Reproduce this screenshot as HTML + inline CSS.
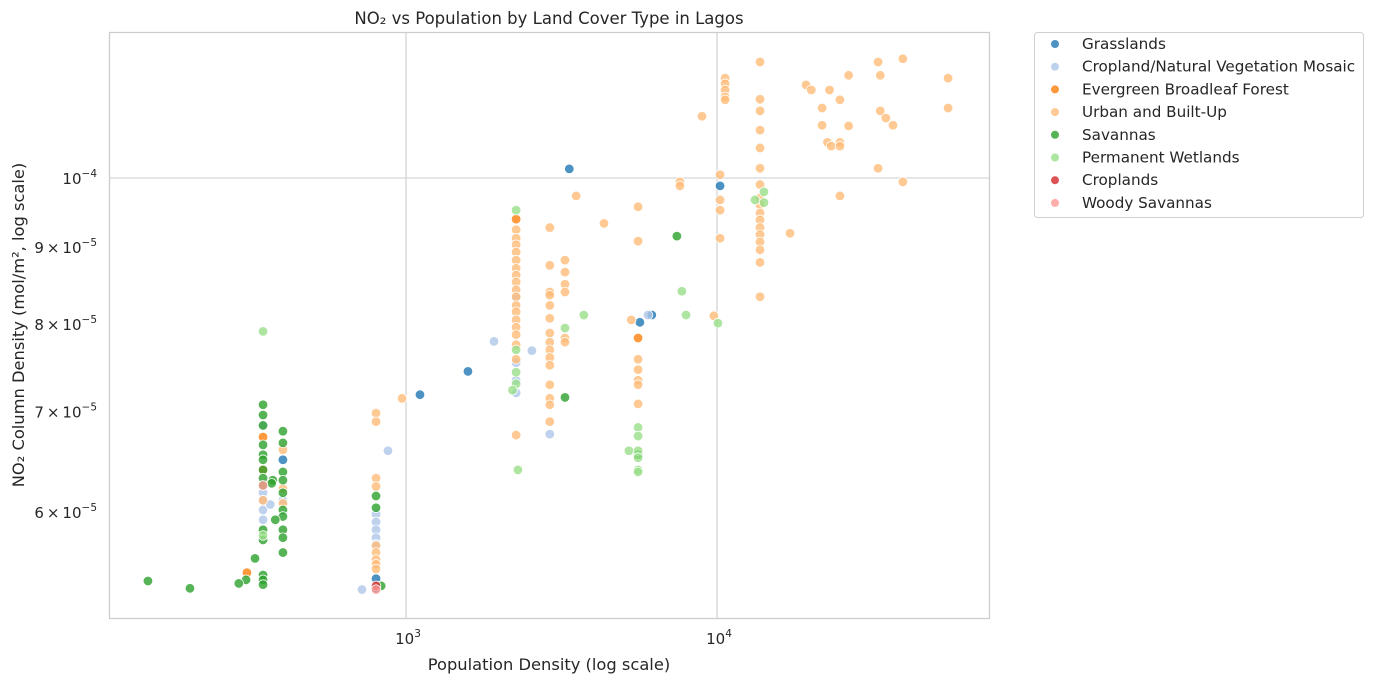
<!DOCTYPE html>
<html><head><meta charset="utf-8"><style>
body{margin:0;background:#fff;font-family:"Liberation Sans","DejaVu Sans",sans-serif;}
svg text{font-family:"DejaVu Sans","Liberation Sans",sans-serif;fill:#262626;}
</style></head><body>
<svg id="chart" width="1373" height="684" viewBox="0 0 1373 684" xmlns="http://www.w3.org/2000/svg">
<rect x="0" y="0" width="1373" height="684" fill="#fff"/>
<g id="grid"></g>
<g id="points"></g>
<rect x="109.5" y="32.5" width="880" height="586" fill="none" stroke="#cccccc" stroke-width="1.25"/>
<g id="xticks"></g>
<g id="yticks"></g>
<text x="549" y="24" text-anchor="middle" font-size="16.5">NO₂ vs Population by Land Cover Type in Lagos</text>
<text x="549" y="670" text-anchor="middle" font-size="16.3">Population Density (log scale)</text>
<text transform="translate(24,325) rotate(-90)" text-anchor="middle" font-size="16.3">NO₂ Column Density (mol/m², log scale)</text>
<g id="legend">
<rect x="1034.5" y="32.5" width="329" height="185" rx="3" fill="#fff" stroke="#d0d0d0"/>
</g>
</svg>
<script>
const categories=["Grasslands","Cropland/Natural Vegetation Mosaic","Evergreen Broadleaf Forest","Urban and Built-Up","Savannas","Permanent Wetlands","Croplands","Woody Savannas"];
const colors=["#1f77b4","#aec7e8","#ff7f0e","#ffbb78","#2ca02c","#98df8a","#d62728","#ff9896"];
const xTicks=[1000,10000];
const xTickLabels=["3","4"];
const yTicks=[10e-5,9e-5,8e-5,7e-5,6e-5];
const yTickLabels=["","9","8","7","6"];
// values: [population, NO2 in 1e-5 mol/m2]
const grasslands=[[402,6.5],[801,5.42],[801,5.34],[1109,7.18],[1582,7.44],[3350,10.14],[5650,8.02],[6170,8.11],[10230,9.88]];
const mosaic=[[347,6.85],[347,6.18],[347,6.02],[347,5.93],[347,6.11],[366,6.07],[402,6.11],[801,5.98],[801,5.91],[801,5.84],[801,5.77],[801,5.71],[722,5.33],[875,6.59],[1918,7.79],[2540,7.68],[2260,8.33],[2260,7.54],[2260,7.34],[2260,7.2],[2900,6.76],[6000,8.11]];
const evergreen=[[347,6.73],[347,6.4],[308,5.47],[2260,9.39],[5575,7.83]];
const urban=[[347,6.25],[347,6.11],[402,6.6],[402,6.22],[402,6.08],[801,6.98],[801,6.89],[801,6.32],[801,6.24],[801,5.7],[801,5.64],[801,5.58],[801,5.54],[801,5.5],[971,7.14],
[2260,9.24],[2260,9.12],[2260,9.03],[2260,8.93],[2260,8.82],[2260,8.71],[2260,8.62],[2260,8.53],[2260,8.43],[2260,8.34],[2260,8.23],[2260,8.15],[2260,8.05],[2260,7.96],[2260,7.87],[2260,7.75],[2260,7.58],[2260,6.75],
[2900,9.27],[2900,8.75],[2900,8.4],[2900,8.36],[2900,8.23],[2900,8.07],[2900,7.89],[2900,7.78],[2900,7.69],[2900,7.6],[2900,7.51],[2900,7.29],[2900,7.14],[2900,7.07],[2900,6.89],
[3245,8.82],[3245,8.66],[3245,8.5],[3245,8.4],[3245,7.83],[3245,7.78],[3525,9.73],[4330,9.33],[5300,8.05],
[5575,9.57],[5575,9.08],[5575,7.58],[5575,7.46],[5575,7.34],[5575,7.29],[5575,7.08],[7600,9.94],[7600,9.88],[8950,10.99],[9770,8.1],
[10230,10.05],[10230,9.67],[10230,9.52],[10230,9.12],[10620,11.65],[10620,11.55],[10620,11.44],[10620,11.32],[10620,11.27],
[13750,11.94],[13750,11.28],[13750,11.08],[13750,10.76],[13750,10.47],[13750,10.15],[13750,9.9],[13750,9.7],[13750,9.6],[13750,9.48],[13750,9.38],[13750,9.27],[13750,9.17],[13750,9.07],[13750,8.96],[13750,8.79],[13750,8.34],
[17170,9.19],[19330,11.53],[20100,11.44],[21770,11.13],[21770,10.84],[22650,10.56],[23300,10.5],[23000,11.44],[24850,11.27],[24850,10.56],[24850,10.5],[24850,9.73],[26500,10.83],[26500,11.7],
[32960,11.94],[33500,11.7],[33500,11.08],[34900,10.96],[36800,10.84],[32960,10.15],[39600,12.0],[39600,9.94],[55340,11.65],[55340,11.13]];
const savannas=[[347,7.07],[347,6.96],[347,6.85],[347,6.65],[347,6.55],[347,6.5],[347,6.4],[347,6.32],[347,6.25],[347,5.84],[347,5.75],[347,5.45],[347,5.41],[347,5.37],
[402,6.79],[402,6.67],[402,6.38],[402,6.3],[402,6.18],[402,6.02],[402,5.96],[402,5.84],[402,5.77],[402,5.64],[373,6.3],[370,6.27],[380,5.93],[327,5.59],[306,5.41],[290,5.38],[202,5.34],[148,5.4],
[801,6.15],[801,6.04],[832,5.36],[3245,7.15],[5575,6.55],[7430,9.15]];
const wetlands=[[347,5.79],[347,7.91],[2260,9.52],[2260,7.69],[2260,7.43],[2260,7.3],[2200,7.23],[2290,6.4],[3245,7.95],[3730,8.11],[5575,6.83],[5575,6.74],[5575,6.59],[5575,6.52],[5575,6.4],[5575,6.38],[5210,6.59],[7710,8.41],[7950,8.11],[10070,8.01],[13250,9.67],[14160,9.79],[14160,9.63]];
const croplands=[[801,5.36]];
const woody=[[347,6.25],[801,5.33]];
const series=[grasslands,mosaic,evergreen,urban,savannas,wetlands,croplands,woody];

const NS="http://www.w3.org/2000/svg";
const X0=109,X1=989,Y0=32,Y1=618;
function xScale(v){return 406+311*(Math.log10(v)-3);}
function yScale(v){return 178-1506*(Math.log10(v)+4);}
function mk(tag,attrs,parent){const e=document.createElementNS(NS,tag);for(const k in attrs)e.setAttribute(k,attrs[k]);parent.appendChild(e);return e;}
const grid=document.getElementById('grid'),pts=document.getElementById('points'),xt=document.getElementById('xticks'),yt=document.getElementById('yticks'),lg=document.getElementById('legend');
xTicks.forEach((t,i)=>{
  const x=xScale(t);
  const l=mk('line',{x1:x,x2:x,y1:Y0,y2:Y1,stroke:'#cccccc','stroke-width':1.1},grid);
  
  
  const tx=mk('text',{x:x+2,y:644,'text-anchor':'middle','font-size':15},xt);
  
  
  tx.innerHTML='10<tspan font-size="10.5" dy="-7">'+xTickLabels[i]+'</tspan>';
});
yTicks.forEach((t,i)=>{
  const y=yScale(t);
  if(i===0){const l=mk('line',{x1:X0,x2:X1,y1:y,y2:y,stroke:'#cccccc','stroke-width':1.1},grid);
    
    }
  const tx=mk('text',{x:97,y:y+6,'text-anchor':'end','font-size':15},yt);
  
  
  const exp=i===0?'−4':'−5';
  tx.innerHTML=(yTickLabels[i]?yTickLabels[i]+'\u2009\u00d7\u200910':'10')+'<tspan font-size="10.5" dy="-7">'+exp+'</tspan>';
});
series.forEach((s,si)=>{
  s.forEach(p=>{
    const c=mk('circle',{cx:xScale(p[0]),cy:yScale(p[1]*1e-5),r:4.8,fill:colors[si],'fill-opacity':0.8,stroke:'#fff','stroke-width':0.8},pts);
    
    
  });
});
categories.forEach((c,i)=>{
  const y=44+i*22.7;
  const d=mk('circle',{cx:1055,cy:y,r:4,fill:colors[i],'fill-opacity':0.8},lg);
  
  
  const t=mk('text',{x:1082,y:y+5,'font-size':15.2},lg);
  
  
  t.textContent=c;
});
</script>
</body></html>
